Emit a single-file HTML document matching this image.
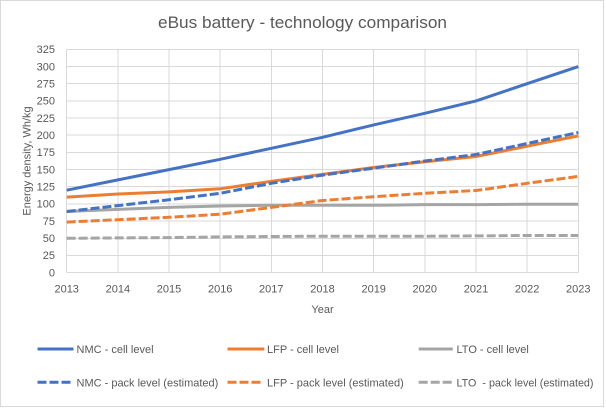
<!DOCTYPE html>
<html>
<head>
<meta charset="utf-8">
<style>
  html, body { margin: 0; padding: 0; background: #ffffff; }
  svg { display: block; }
  text { font-family: "Liberation Sans", sans-serif; fill: #595959; }
</style>
</head>
<body>
<svg width="606" height="408" viewBox="0 0 606 408" xmlns="http://www.w3.org/2000/svg">
  <rect x="0" y="0" width="606" height="408" fill="#ffffff"/>
  <rect x="0.5" y="0.5" width="603" height="406" fill="#ffffff" stroke="#d9d9d9" stroke-width="1"/>

  <!-- Title -->
  <text x="158" y="28" font-size="17" textLength="289" lengthAdjust="spacingAndGlyphs">eBus battery - technology comparison</text>

  <!-- Gridlines -->
  <g stroke="#d9d9d9" stroke-width="1" shape-rendering="crispEdges">
    <line x1="66.7" y1="49.3" x2="578.3" y2="49.3"/>
    <line x1="66.7" y1="66.5" x2="578.3" y2="66.5"/>
    <line x1="66.7" y1="83.7" x2="578.3" y2="83.7"/>
    <line x1="66.7" y1="100.8" x2="578.3" y2="100.8"/>
    <line x1="66.7" y1="118.0" x2="578.3" y2="118.0"/>
    <line x1="66.7" y1="135.2" x2="578.3" y2="135.2"/>
    <line x1="66.7" y1="152.4" x2="578.3" y2="152.4"/>
    <line x1="66.7" y1="169.6" x2="578.3" y2="169.6"/>
    <line x1="66.7" y1="186.7" x2="578.3" y2="186.7"/>
    <line x1="66.7" y1="203.9" x2="578.3" y2="203.9"/>
    <line x1="66.7" y1="221.1" x2="578.3" y2="221.1"/>
    <line x1="66.7" y1="238.3" x2="578.3" y2="238.3"/>
    <line x1="66.7" y1="255.4" x2="578.3" y2="255.4"/>
    <line x1="66.7" y1="272.6" x2="578.3" y2="272.6"/>
    <line x1="66.7" y1="49.3" x2="66.7" y2="272.6"/>
    <line x1="117.9" y1="49.3" x2="117.9" y2="272.6"/>
    <line x1="169.0" y1="49.3" x2="169.0" y2="272.6"/>
    <line x1="220.2" y1="49.3" x2="220.2" y2="272.6"/>
    <line x1="271.3" y1="49.3" x2="271.3" y2="272.6"/>
    <line x1="322.5" y1="49.3" x2="322.5" y2="272.6"/>
    <line x1="373.7" y1="49.3" x2="373.7" y2="272.6"/>
    <line x1="424.8" y1="49.3" x2="424.8" y2="272.6"/>
    <line x1="476.0" y1="49.3" x2="476.0" y2="272.6"/>
    <line x1="527.1" y1="49.3" x2="527.1" y2="272.6"/>
    <line x1="578.3" y1="49.3" x2="578.3" y2="272.6"/>
  </g>

  <!-- Y tick labels -->
  <g font-size="11" text-anchor="end">
    <text x="55" y="53.1">325</text>
    <text x="55" y="70.3">300</text>
    <text x="55" y="87.5">275</text>
    <text x="55" y="104.6">250</text>
    <text x="55" y="121.8">225</text>
    <text x="55" y="139.0">200</text>
    <text x="55" y="156.2">175</text>
    <text x="55" y="173.4">150</text>
    <text x="55" y="190.5">125</text>
    <text x="55" y="207.7">100</text>
    <text x="55" y="224.9">75</text>
    <text x="55" y="242.1">50</text>
    <text x="55" y="259.2">25</text>
    <text x="55" y="276.4">0</text>
  </g>

  <!-- X tick labels -->
  <g font-size="11" text-anchor="middle">
    <text x="66.7" y="292.6">2013</text>
    <text x="117.9" y="292.6">2014</text>
    <text x="169.0" y="292.6">2015</text>
    <text x="220.2" y="292.6">2016</text>
    <text x="271.3" y="292.6">2017</text>
    <text x="322.5" y="292.6">2018</text>
    <text x="373.7" y="292.6">2019</text>
    <text x="424.8" y="292.6">2020</text>
    <text x="476.0" y="292.6">2021</text>
    <text x="527.1" y="292.6">2022</text>
    <text x="578.3" y="292.6">2023</text>
  </g>

  <!-- Axis titles -->
  <text x="322.5" y="313" font-size="11" text-anchor="middle">Year</text>
  <text transform="translate(30.5,161) rotate(-90)" font-size="11" text-anchor="middle">Energy density, Wh/kg</text>

  <!-- Series -->
  <g fill="none" stroke-width="3" stroke-linejoin="round">
    <polyline stroke="#4472c4" points="66.7,190.2 117.9,179.9 169.0,169.6 220.2,159.3 271.3,148.3 322.5,137.3 373.7,124.9 424.8,113.3 476.0,100.9 527.1,83.7 578.3,66.6"/>
    <polyline stroke="#ed7d31" points="66.7,197.1 117.9,194.0 169.0,191.9 220.2,188.8 271.3,181.3 322.5,174.4 373.7,167.5 424.8,161.7 476.0,156.5 527.1,146.2 578.3,135.9"/>
    <polyline stroke="#a5a5a5" points="66.7,211.5 117.9,209.4 169.0,207.4 220.2,206.0 271.3,205.3 322.5,205.3 373.7,205.3 424.8,204.6 476.0,204.6 527.1,204.3 578.3,204.3"/>
    <polyline stroke="#4472c4" stroke-dasharray="9 3" points="66.7,211.5 117.9,205.6 169.0,199.8 220.2,193.3 271.3,183.3 322.5,175.1 373.7,168.2 424.8,161.0 476.0,154.5 527.1,143.5 578.3,132.5"/>
    <polyline stroke="#ed7d31" stroke-dasharray="9 3" points="66.7,222.1 117.9,219.7 169.0,217.3 220.2,214.2 271.3,207.4 322.5,200.5 373.7,196.7 424.8,193.3 476.0,190.5 527.1,183.3 578.3,176.4"/>
    <polyline stroke="#a5a5a5" stroke-dasharray="9 3" points="66.7,238.3 117.9,237.9 169.0,237.6 220.2,236.9 271.3,236.5 322.5,236.2 373.7,236.2 424.8,236.2 476.0,235.9 527.1,235.5 578.3,235.5"/>
  </g>

  <!-- Legend -->
  <g stroke-width="3" fill="none">
    <line x1="37.5" y1="349" x2="73.5" y2="349" stroke="#4472c4"/>
    <line x1="227.5" y1="349" x2="264.3" y2="349" stroke="#ed7d31"/>
    <line x1="418.7" y1="349" x2="452.8" y2="349" stroke="#a5a5a5"/>
    <line x1="37.5" y1="382.3" x2="70.5" y2="382.3" stroke="#4472c4" stroke-dasharray="9 3"/>
    <line x1="227.5" y1="382.3" x2="260.5" y2="382.3" stroke="#ed7d31" stroke-dasharray="9 3"/>
    <line x1="418.7" y1="382.3" x2="451.7" y2="382.3" stroke="#a5a5a5" stroke-dasharray="9 3"/>
  </g>
  <g font-size="11">
    <text x="76.5" y="353">NMC - cell level</text>
    <text x="267" y="353">LFP - cell level</text>
    <text x="456.5" y="353">LTO - cell level</text>
    <text x="76.5" y="386.3">NMC - pack level (estimated)</text>
    <text x="267" y="386.3">LFP - pack level (estimated)</text>
    <text x="456.5" y="386.3" textLength="137" lengthAdjust="spacingAndGlyphs">LTO&#160; - pack level (estimated)</text>
  </g>
</svg>
</body>
</html>
